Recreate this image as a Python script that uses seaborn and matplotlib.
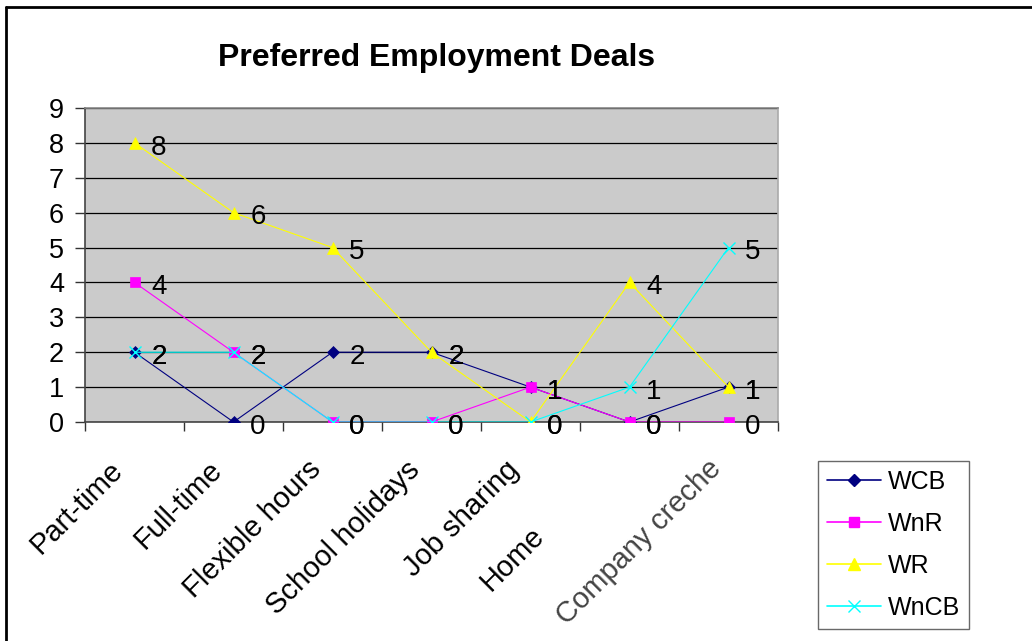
import matplotlib
matplotlib.use("Agg")
import matplotlib.pyplot as plt
from matplotlib.transforms import ScaledTranslation
from matplotlib.lines import Line2D
import seaborn as sns
import pandas as pd

# Survey counts per preferred working arrangement
categories = ["Part-time", "Full-time", "Flexible hours", "School holidays",
              "Job sharing", "Home", "Company creche"]
wcb = [2, 0, 2, 2, 1, 0, 1]
wnr = [4, 2, 0, 0, 1, 0, 0]
wr = [8, 6, 5, 2, 0, 4, 1]
wncb = [2, 2, 0, 0, 0, 1, 5]
series_names = ["WCB", "WnR", "WR", "WnCB"]
y_ticks = list(range(0, 10))

series_values = [wcb, wnr, wr, wncb]

sns.set_theme(style="white")
plt.rcParams["font.family"] = ["Liberation Sans", "DejaVu Sans"]
plt.rcParams["text.color"] = "black"
plt.rcParams["xtick.color"] = "black"
plt.rcParams["ytick.color"] = "black"
plt.rcParams["axes.labelcolor"] = "black"

palette = {"WCB": "#000080", "WnR": "#FF00FF", "WR": "#FFFF00", "WnCB": "#00FFFF"}
markers = {"WCB": "D", "WnR": "s", "WR": "^", "WnCB": "x"}
msizes = {"WCB": 6, "WnR": 7, "WR": 9, "WnCB": 8}

fig = plt.figure(figsize=(10.32, 6.41), dpi=100)
ax = fig.add_axes([85 / 1032, 219 / 641, 693 / 1032, 314 / 641])
ax.set_facecolor("#CBCBCB")

for name, vals in zip(series_names, series_values):
    d = pd.DataFrame({"pos": range(len(vals)), "count": vals})
    sns.lineplot(data=d, x="pos", y="count", color=palette[name],
                 marker=markers[name], markersize=msizes[name],
                 markerfacecolor=palette[name], markeredgecolor=palette[name],
                 markeredgewidth=1.0 if name == "WnCB" else 0.5,
                 linewidth=0.8, ax=ax, zorder=3)

# value labels beside every point
for name, vals in zip(series_names, series_values):
    for i, v in enumerate(vals):
        ax.annotate(str(v), (i, v), xytext=(12, -8.5), textcoords="offset points",
                    ha="left", va="baseline", fontsize=20, color="black", zorder=5)

ax.set_xlim(-0.5, len(categories) - 0.5)
ax.set_ylim(0, 9)
ax.set_yticks(y_ticks)
ax.set_yticklabels([str(t) for t in y_ticks], fontsize=19.5)
ax.tick_params(axis="y", which="major", direction="out", length=7, width=1,
               pad=8, color="#333333", left=True)

ax.set_xticks(range(len(categories)))
ax.set_xticklabels([])
ax.tick_params(axis="x", which="major", length=0)
ax.set_xticks([k - 0.5 for k in range(len(categories) + 1)], minor=True)
ax.tick_params(axis="x", which="minor", direction="out", length=6.5, width=1,
               color="#333333", bottom=True)

ax.grid(axis="y", color="black", linewidth=0.9)
ax.grid(axis="x", visible=False)
ax.set_axisbelow(True)
ax.set_xlabel("")
ax.set_ylabel("")

for side, col in [("left", "#444444"), ("bottom", "#444444"),
                  ("top", "#888888"), ("right", "#AAAAAA")]:
    ax.spines[side].set_visible(True)
    ax.spines[side].set_color(col)
    ax.spines[side].set_linewidth(1.2)

# slanted category labels, right end just left of each category centre
label_offsets = {i: (-10, -49) for i in range(len(categories))}
label_offsets[5] = (-84, -115)
label_offsets[6] = (-6, -48)
for i, cat in enumerate(categories):
    dx, dy = label_offsets[i]
    tr = ax.get_xaxis_transform() + ScaledTranslation(dx / 100, dy / 100, fig.dpi_scale_trans)
    ax.text(i, 0, cat, transform=tr, rotation=45, rotation_mode="anchor",
            ha="right", va="baseline", fontsize=21,
            color="#444444" if i == 6 else "black", clip_on=False)

fig.text(437 / 1032, 1 - 66 / 641, "Preferred Employment Deals",
         ha="center", va="baseline", fontsize=23, fontweight="bold", color="black")

handles = [Line2D([0], [0], color=palette[n], marker=markers[n], linewidth=1.2,
                  markersize=msizes[n], markerfacecolor=palette[n],
                  markeredgecolor=palette[n], markeredgewidth=1.0)
           for n in series_names]
leg = fig.legend(handles, series_names, loc="upper left",
                 bbox_to_anchor=(818 / 1032, 1 - 461 / 641),
                 frameon=True, fancybox=False, shadow=False, fontsize=18,
                 handlelength=2.16, handletextpad=0.3, labelspacing=0.72,
                 borderpad=0.35, borderaxespad=0)
leg.get_frame().set_edgecolor("#444444")
leg.get_frame().set_linewidth(1.0)
for t in leg.get_texts():
    t.set_color("black")

# outer chart frame (top and left edges)
fig.add_artist(Line2D([6 / 1032, 1.0], [1 - 7 / 641, 1 - 7 / 641],
                      transform=fig.transFigure, color="black", linewidth=2))
fig.add_artist(Line2D([6 / 1032, 6 / 1032], [0, 1 - 7 / 641],
                      transform=fig.transFigure, color="black", linewidth=2))

fig.savefig("out.png", dpi=100, facecolor="white")
